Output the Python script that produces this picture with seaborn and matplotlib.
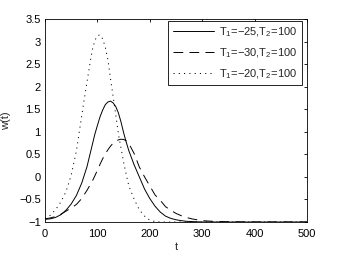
import matplotlib
matplotlib.use("Agg")
import matplotlib.pyplot as plt
import seaborn as sns
import pandas as pd

# time samples
t_vals = [0, 10, 20, 30, 40, 50, 60, 70, 80, 90, 95, 100, 105, 110, 115,
          120, 125, 130, 135, 140, 145, 150, 155, 160, 170, 180, 190, 200,
          210, 220, 230, 240, 250, 260, 270, 280, 290, 300, 320, 350, 400,
          450, 500]

# T1=-25, T2=100 (solid)
w_25 = [-0.94, -0.93, -0.90, -0.84, -0.74, -0.60, -0.41, -0.14, 0.22, 0.70,
        0.94, 1.14, 1.33, 1.48, 1.60, 1.66, 1.68, 1.64, 1.56, 1.42, 1.22,
        0.98, 0.77, 0.58, 0.27, 0.00, -0.27, -0.48, -0.65, -0.78, -0.87,
        -0.92, -0.95, -0.97, -0.985, -0.99, -0.995, -1.0, -1.0, -1.0, -1.0,
        -1.0, -1.0]

# T1=-30, T2=100 (dashed)
w_30 = [-0.93, -0.91, -0.88, -0.83, -0.76, -0.69, -0.61, -0.48, -0.30, -0.10,
        0.02, 0.15, 0.28, 0.40, 0.51, 0.60, 0.68, 0.75, 0.79, 0.82, 0.835,
        0.83, 0.80, 0.74, 0.52, 0.22, 0.00, -0.20, -0.40, -0.52, -0.66,
        -0.74, -0.81, -0.86, -0.90, -0.93, -0.95, -0.97, -0.985, -0.995,
        -1.0, -1.0, -1.0]

# T1=-20, T2=100 (dotted)
w_20 = [-0.92, -0.85, -0.73, -0.56, -0.33, 0.04, 0.58, 1.35, 2.10, 2.80,
        3.02, 3.13, 3.15, 3.06, 2.88, 2.60, 2.18, 1.78, 1.38, 0.96, 0.64,
        0.33, 0.05, -0.20, -0.49, -0.73, -0.87, -0.96, -0.99, -1.0, -1.0,
        -1.0, -1.0, -1.0, -1.0, -1.0, -1.0, -1.0, -1.0, -1.0, -1.0, -1.0,
        -1.0]

labels = [r'T$_1$=−25,T$_2$=100', r'T$_1$=−30,T$_2$=100', r'T$_1$=−20,T$_2$=100']

x_ticks = [0, 100, 200, 300, 400, 500]
y_ticks = [-1, -0.5, 0, 0.5, 1, 1.5, 2, 2.5, 3, 3.5]
y_tick_labels = ['−1', '−0.5', '0', '0.5', '1', '1.5', '2', '2.5', '3', '3.5']

sns.set_style("white")
plt.rcParams['font.family'] = ['Liberation Sans', 'DejaVu Sans']
plt.rcParams['mathtext.fontset'] = 'custom'
plt.rcParams['mathtext.rm'] = 'Liberation Sans'
plt.rcParams['mathtext.it'] = 'Liberation Sans:italic'
plt.rcParams['lines.scale_dashes'] = False

df = pd.DataFrame({'t': t_vals, 'a': w_25, 'b': w_30, 'c': w_20})

fig = plt.figure(figsize=(3.39, 2.56), dpi=100)
ax = fig.add_axes([45 / 339, 1 - 222 / 256, 262 / 339, 203 / 256])

styles = ['-', (0, (7, 4.5)), (0, (0.8, 3))]
for col, lab, ls in zip(['a', 'b', 'c'], labels, styles):
    sns.lineplot(data=df, x='t', y=col, ax=ax, color='k', linewidth=0.7,
                 linestyle=ls, label=lab)

ax.set_xlim(0, 500)
ax.set_ylim(-1, 3.5)
ax.set_xticks(x_ticks)
ax.set_xticklabels([str(v) for v in x_ticks])
ax.set_yticks(y_ticks)
ax.set_yticklabels(y_tick_labels)
ax.tick_params(direction='in', length=2.2, width=0.6, labelsize=8,
               top=True, right=True, colors='k')
ax.tick_params(axis='x', pad=5)
ax.tick_params(axis='y', pad=3)
for s in ax.spines.values():
    s.set_visible(True)
    s.set_color('k')
    s.set_linewidth(0.6)

ax.set_xlabel('t', fontsize=8, labelpad=2)
ax.set_ylabel('w(t)', fontsize=8, labelpad=6)

leg = ax.legend(loc='upper right', bbox_to_anchor=(0.981, 0.99),
                borderaxespad=0, fontsize=8, fancybox=False, framealpha=1,
                edgecolor='k', handlelength=3.7, handletextpad=0.5,
                labelspacing=0.65, borderpad=0.4)
leg.get_frame().set_linewidth(0.6)

fig.savefig('out.png', dpi=100)
